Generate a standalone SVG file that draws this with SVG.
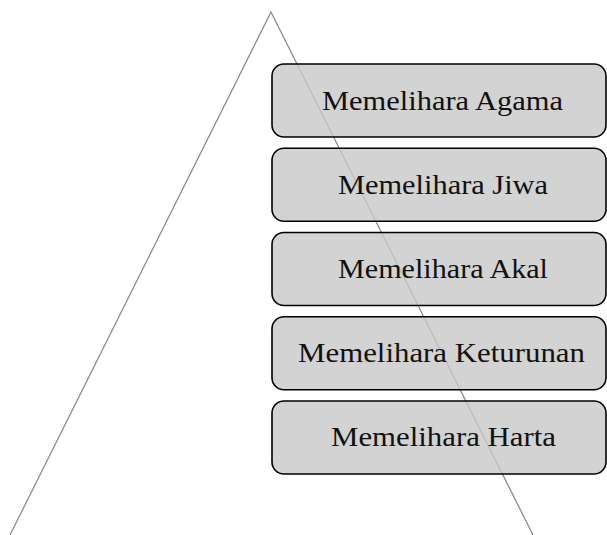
<svg xmlns="http://www.w3.org/2000/svg" width="607" height="535" viewBox="0 0 607 535">
  <style>
    .edge { fill: none; stroke: #858585; stroke-width: 1.2; }
    .box { fill: #c8c8c8; fill-opacity: 0.8; stroke: #000; stroke-width: 1.6; }
    .label { font-family: "Liberation Serif", "Times New Roman", serif; font-size: 28px; fill: #111; text-anchor: middle; }
  </style>
  <rect width="607" height="535" fill="#fff"/>
  <g id="connectors">
    <polyline class="edge" points="10,535 271,12 533,535"/>
  </g>
  <g id="agama">
    <rect class="box" x="272" y="64" width="334" height="73" rx="12"/>
    <text class="label" x="442.5" y="110" textLength="241" lengthAdjust="spacingAndGlyphs">Memelihara Agama</text>
  </g>
  <g id="jiwa">
    <rect class="box" x="272" y="148.25" width="334" height="73" rx="12"/>
    <text class="label" x="443" y="193.5" textLength="210" lengthAdjust="spacingAndGlyphs">Memelihara Jiwa</text>
  </g>
  <g id="akal">
    <rect class="box" x="272" y="232.5" width="334" height="73" rx="12"/>
    <text class="label" x="443" y="277.5" textLength="210" lengthAdjust="spacingAndGlyphs">Memelihara Akal</text>
  </g>
  <g id="keturunan">
    <rect class="box" x="272" y="316.75" width="334" height="73" rx="12"/>
    <text class="label" x="441.5" y="361.5" textLength="287" lengthAdjust="spacingAndGlyphs">Memelihara Keturunan</text>
  </g>
  <g id="harta">
    <rect class="box" x="272" y="401" width="334" height="73" rx="12"/>
    <text class="label" x="443.5" y="446" textLength="225" lengthAdjust="spacingAndGlyphs">Memelihara Harta</text>
  </g>
</svg>
